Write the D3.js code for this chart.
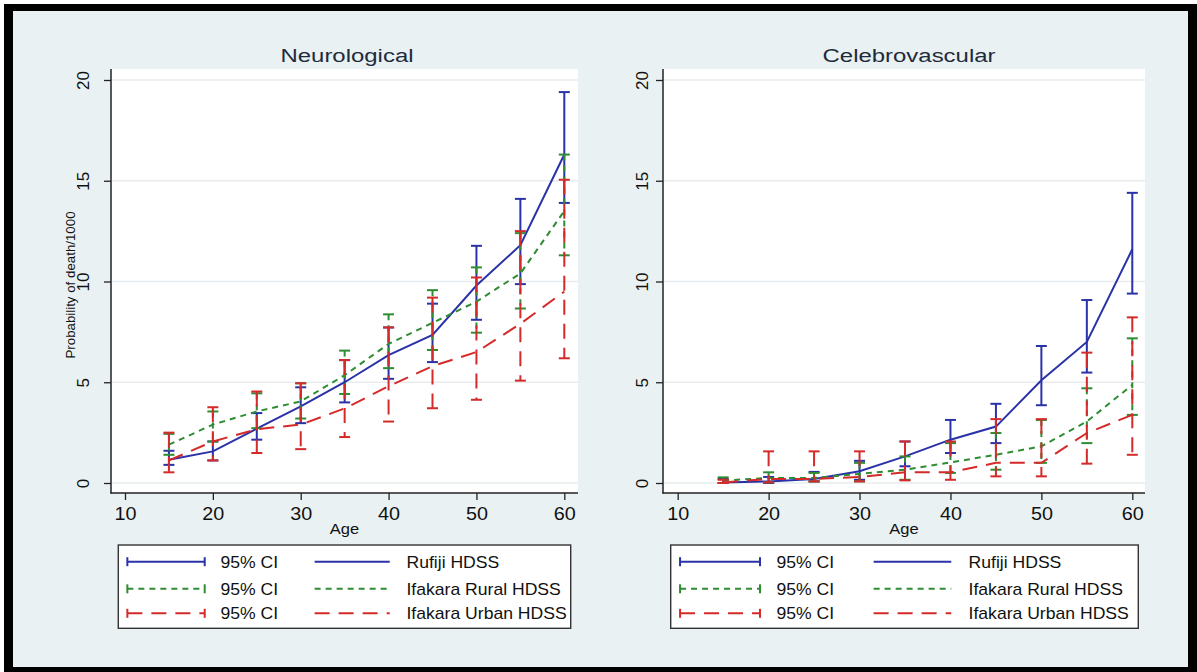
<!DOCTYPE html>
<html>
<head>
<meta charset="utf-8">
<script src="https://cdn.jsdelivr.net/npm/d3@7/dist/d3.min.js"></script>
<style>
  html, body { margin: 0; padding: 0; background: #ffffff; }
  svg { display: block; font-family: "Liberation Sans", Arial, sans-serif; }
</style>
</head>
<body>
<svg id="chart" width="1197" height="672"></svg>
<script>
// Age groups (x values)
const ages = [15, 20, 25, 30, 35, 40, 45, 50, 55, 60];
const xTicks = [10, 20, 30, 40, 50, 60];
const yTicks = [0, 5, 10, 15, 20];
const panelTitles = ["Neurological", "Celebrovascular"];
const seriesNames = ["Rufiji HDSS", "Ifakara Rural HDSS", "Ifakara Urban HDSS"];
const ciLabel = "95% CI";

// Neurological: probability of death per 1000, with 95% CI
const rufijiNeuro   = [1.15, 1.57, 2.70, 3.80, 5.00, 6.35, 7.35, 9.80, 11.8, 16.3];
const rufijiNeuroLo = [0.90, 1.12, 2.15, 2.97, 4.00, 5.17, 6.00, 8.10, 9.87, 13.9];
const rufijiNeuroHi = [1.60, 2.06, 3.47, 4.75, 6.10, 7.72, 8.90, 11.77, 14.1, 19.4];

const ruralNeuro    = [1.90, 2.90, 3.55, 4.05, 5.35, 6.90, 7.95, 9.00, 10.4, 13.5];
const ruralNeuroLo  = [1.40, 2.06, 2.72, 3.20, 4.42, 5.70, 6.60, 7.46, 8.66, 11.3];
const ruralNeuroHi  = [2.44, 3.55, 4.45, 4.95, 6.57, 8.37, 9.57, 10.7, 12.4, 16.3];

const urbanNeuro    = [1.12, 2.06, 2.67, 2.90, 3.70, 4.80, 5.80, 6.50, 7.90, 9.50];
const urbanNeuroLo  = [0.53, 1.12, 1.49, 1.68, 2.28, 3.05, 3.71, 4.13, 5.08, 6.19];
const urbanNeuroHi  = [2.50, 3.76, 4.54, 4.95, 6.10, 7.72, 9.20, 10.2, 12.5, 15.05];

// Celebrovascular: probability of death per 1000, with 95% CI
const rufijiCereb   = [0.03, 0.08, 0.20, 0.58, 1.32, 2.15, 2.80, 5.10, 7.00, 11.6];
const rufijiCerebLo = [0.00, 0.00, 0.08, 0.16, 0.83, 1.49, 1.98, 3.86, 5.48, 9.40];
const rufijiCerebHi = [0.20, 0.30, 0.55, 1.10, 2.06, 3.13, 3.93, 6.80, 9.08, 14.4];

const ruralCereb    = [0.12, 0.25, 0.25, 0.45, 0.66, 1.02, 1.40, 1.82, 3.05, 4.87];
const ruralCerebLo  = [0.00, 0.03, 0.08, 0.08, 0.16, 0.50, 0.66, 1.00, 1.98, 3.38];
const ruralCerebHi  = [0.28, 0.53, 0.50, 1.00, 1.32, 1.98, 2.48, 3.13, 4.70, 7.18];

const urbanCereb    = [0.03, 0.20, 0.20, 0.30, 0.53, 0.53, 1.00, 1.00, 2.48, 3.38];
const urbanCerebLo  = [0.00, 0.03, 0.08, 0.08, 0.13, 0.16, 0.33, 0.33, 0.96, 1.40];
const urbanCerebHi  = [0.16, 1.57, 1.57, 1.57, 2.06, 2.06, 3.17, 3.17, 6.47, 8.22];

// Line styles per series
const styles = [
  { color: "#2a32a8", dash: null },
  { color: "#2e8d32", dash: "6,5" },
  { color: "#d42a2a", dash: "15,9" }
];

const panelData = [
  [
    { est: rufijiNeuro, lo: rufijiNeuroLo, hi: rufijiNeuroHi },
    { est: ruralNeuro,  lo: ruralNeuroLo,  hi: ruralNeuroHi },
    { est: urbanNeuro,  lo: urbanNeuroLo,  hi: urbanNeuroHi }
  ],
  [
    { est: rufijiCereb, lo: rufijiCerebLo, hi: rufijiCerebHi },
    { est: ruralCereb,  lo: ruralCerebLo,  hi: ruralCerebHi },
    { est: urbanCereb,  lo: urbanCerebLo,  hi: urbanCerebHi }
  ]
];

// Layout of the two graph panels
const layout = [
  { left: 111, right: 578, xr: [125, 564.3], titleX: 347, yLab: 89, yTitle: true,
    legend: [118.3, 570.7] },
  { left: 663, right: 1145, xr: [677.7, 1132.3], titleX: 909, yLab: 647.5, yTitle: false,
    legend: [670.7, 1138.3] }
];
const plotTop = 69, axisY = 493;
const y = d3.scaleLinear().domain([0, 20]).range([483, 80]);

const svg = d3.select("#chart");

// Outer frame
svg.append("rect").attr("x", 4).attr("y", 4).attr("width", 1193).attr("height", 668).attr("fill", "#000");
svg.append("rect").attr("x", 13).attr("y", 11).attr("width", 1175).attr("height", 656).attr("fill", "#e9f1f3");

function stretchedText(g, x, yy, txt, size, sx, anchor, fill) {
  return g.append("text")
    .attr("transform", `translate(${x},${yy}) scale(${sx},1)`)
    .attr("text-anchor", anchor)
    .attr("font-size", size)
    .attr("fill", fill)
    .text(txt);
}

layout.forEach((L, pi) => {
  const x = d3.scaleLinear().domain([10, 60]).range(L.xr);
  const g = svg.append("g");

  // plot region
  g.append("rect").attr("x", L.left).attr("y", plotTop)
    .attr("width", L.right - L.left).attr("height", axisY - plotTop).attr("fill", "#fff");

  // horizontal grid
  g.selectAll("line.grid").data(yTicks).join("line")
    .attr("x1", L.left + 1).attr("x2", L.right)
    .attr("y1", d => y(d)).attr("y2", d => y(d))
    .attr("stroke", "#e8ecee").attr("stroke-width", 1.3);

  // y axis
  const ya = g.append("g").attr("transform", `translate(${L.left},0)`)
    .call(d3.axisLeft(y).tickValues(yTicks).tickSize(7).tickSizeOuter(0).tickFormat(d3.format("d")));
  ya.select(".domain").remove();
  ya.selectAll(".tick line").attr("stroke", "#222").attr("stroke-width", 1.3);
  ya.selectAll(".tick text")
    .attr("x", 0).attr("dy", 0)
    .attr("y", L.yLab - L.left)
    .attr("transform", "rotate(-90)")
    .attr("text-anchor", "middle")
    .attr("font-size", 17)
    .attr("font-family", "Liberation Sans, Arial, sans-serif")
    .attr("fill", "#111");
  g.append("line").attr("x1", L.left).attr("x2", L.left).attr("y1", plotTop).attr("y2", axisY + 0.6)
    .attr("stroke", "#222").attr("stroke-width", 1.5);

  // x axis
  const xa = g.append("g").attr("transform", `translate(0,${axisY})`)
    .call(d3.axisBottom(x).tickValues(xTicks).tickSize(7).tickSizeOuter(0).tickPadding(6.5));
  xa.select(".domain").remove();
  xa.selectAll(".tick line").attr("stroke", "#222").attr("stroke-width", 1.3);
  xa.selectAll(".tick text")
    .attr("font-size", 18.5)
    .attr("font-family", "Liberation Sans, Arial, sans-serif")
    .attr("fill", "#111")
    .attr("transform", "scale(1.07,1)");
  g.append("line").attr("x1", L.left - 0.6).attr("x2", L.right).attr("y1", axisY).attr("y2", axisY)
    .attr("stroke", "#222").attr("stroke-width", 1.5);

  // titles
  stretchedText(g, L.titleX, 62, panelTitles[pi], 19, 1.26, "middle", "#1f2b3b");
  stretchedText(g, (L.left + L.right) / 2, 533.5, "Age", 15, 1.1, "middle", "#111");
  if (L.yTitle) {
    g.append("text")
      .attr("transform", `translate(74.5,285) rotate(-90)`)
      .attr("text-anchor", "middle").attr("font-size", 13.3).attr("fill", "#111")
      .text("Probability of death/1000");
  }

  // series: CI caps then estimate line, in series order
  const cap = 5.5;
  panelData[pi].forEach((s, si) => {
    const st = styles[si];
    const rows = ages.map((a, i) => ({ a, est: s.est[i], lo: s.lo[i], hi: s.hi[i] }));
    const cg = g.append("g").attr("stroke", st.color).attr("stroke-width", 2).attr("fill", "none");
    cg.selectAll("line.v").data(rows).join("line")
      .attr("x1", d => x(d.a)).attr("x2", d => x(d.a))
      .attr("y1", d => y(d.hi)).attr("y2", d => y(d.lo))
      .attr("stroke-dasharray", st.dash);
    cg.selectAll("line.hi").data(rows).join("line")
      .attr("x1", d => x(d.a) - cap).attr("x2", d => x(d.a) + cap)
      .attr("y1", d => y(d.hi)).attr("y2", d => y(d.hi));
    cg.selectAll("line.lo").data(rows).join("line")
      .attr("x1", d => x(d.a) - cap).attr("x2", d => x(d.a) + cap)
      .attr("y1", d => y(d.lo)).attr("y2", d => y(d.lo));
    g.append("path").datum(rows)
      .attr("fill", "none").attr("stroke", st.color).attr("stroke-width", 2)
      .attr("stroke-dasharray", st.dash)
      .attr("d", d3.line().x(d => x(d.a)).y(d => y(d.est)));
  });

  // legend
  const [bx0, bx1] = L.legend;
  const bw = bx1 - bx0;
  const lg = g.append("g");
  lg.append("rect").attr("x", bx0).attr("y", 545).attr("width", bw).attr("height", 83.3)
    .attr("fill", "#fff").attr("stroke", "#333").attr("stroke-width", 1.4);
  const rowsY = [561.7, 588.8, 613.3];
  styles.forEach((st, si) => {
    const ry = rowsY[si];
    const s0 = bx0 + 0.02 * bw, s1 = bx0 + 0.191 * bw;
    lg.append("line").attr("x1", s0).attr("x2", s1).attr("y1", ry).attr("y2", ry)
      .attr("stroke", st.color).attr("stroke-width", 2).attr("stroke-dasharray", st.dash);
    [s0, s1].forEach(cx => lg.append("line").attr("x1", cx).attr("x2", cx)
      .attr("y1", ry - 4.5).attr("y2", ry + 4.5).attr("stroke", st.color).attr("stroke-width", 2));
    stretchedText(lg, bx0 + 0.226 * bw, ry + 5.8, ciLabel, 16, 1.1, "start", "#111");
    lg.append("line").attr("x1", bx0 + 0.434 * bw).attr("x2", bx0 + 0.6 * bw)
      .attr("y1", ry).attr("y2", ry)
      .attr("stroke", st.color).attr("stroke-width", 2).attr("stroke-dasharray", st.dash);
    stretchedText(lg, bx0 + 0.637 * bw, ry + 5.8, seriesNames[si], 16, 1.1, "start", "#111");
  });
});
</script>
</body>
</html>
